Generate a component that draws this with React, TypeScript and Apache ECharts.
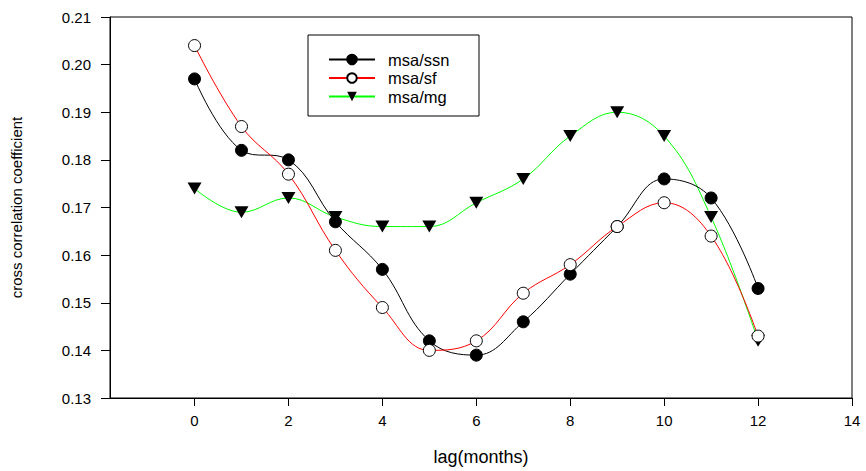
import React, { useEffect, useRef } from "react";
import * as echarts from "echarts";

const lags = [0, 1, 2, 3, 4, 5, 6, 7, 8, 9, 10, 11, 12];
const ssn = [0.197, 0.182, 0.18, 0.167, 0.157, 0.142, 0.139, 0.146, 0.156, 0.166, 0.176, 0.172, 0.153];
const sf = [0.204, 0.187, 0.177, 0.161, 0.149, 0.14, 0.142, 0.152, 0.158, 0.166, 0.171, 0.164, 0.143];
const mg = [0.174, 0.169, 0.172, 0.168, 0.166, 0.166, 0.171, 0.176, 0.185, 0.19, 0.185, 0.168, 0.142];
const xTicks = [0, 2, 4, 6, 8, 10, 12, 14];

const FONT = "Liberation Sans, Arial, sans-serif";

export default function App() {
  const ref = useRef<HTMLDivElement>(null);
  useEffect(() => {
    if (!ref.current) return;
    const chart = echarts.init(ref.current, undefined, { renderer: "svg" });
    const pair = (ys: number[]) => lags.map((x, i) => [x, ys[i]]);
    chart.setOption({
      animation: false,
      backgroundColor: "#fff",
      textStyle: { fontFamily: FONT },
      grid: { left: 110, right: 14, top: 17, bottom: 64, show: true, borderColor: "#000", borderWidth: 1 },
      graphic: [
        {
          type: "rect",
          shape: { x: 308, y: 35, width: 171, height: 81 },
          style: { fill: "#fff", stroke: "#000", lineWidth: 1 },
          z: 10,
        },
      ],
      legend: {
        orient: "vertical",
        left: 323,
        top: 46,
        itemWidth: 46,
        itemHeight: 12,
        itemGap: 1.5,
        z: 20,
        textStyle: { fontSize: 16.5, color: "#000", fontFamily: FONT, padding: [0, 0, 0, 8] },
        data: ["msa/ssn", "msa/sf", "msa/mg"],
      },
      xAxis: {
        type: "value",
        min: -1.8,
        max: 14,
        name: "lag(months)",
        nameLocation: "middle",
        nameGap: 50,
        nameTextStyle: { fontSize: 18, color: "#000", fontFamily: FONT },
        axisLine: { onZero: false, lineStyle: { color: "#000", width: 1 } },
        axisTick: { show: true, inside: false, length: 8, customValues: xTicks, lineStyle: { color: "#000" } },
        axisLabel: { customValues: xTicks, fontSize: 15, color: "#000", margin: 15, fontFamily: FONT },
        splitLine: { show: false },
      },
      yAxis: {
        type: "value",
        min: 0.13,
        max: 0.21,
        interval: 0.01,
        name: "cross correlation coefficient",
        nameLocation: "middle",
        nameGap: 86,
        nameTextStyle: { fontSize: 15, color: "#000", fontFamily: FONT },
        axisLine: { onZero: false, lineStyle: { color: "#000", width: 1 } },
        axisTick: { show: true, length: 9, lineStyle: { color: "#000" } },
        axisLabel: {
          fontSize: 15,
          color: "#000",
          margin: 19,
          fontFamily: FONT,
          formatter: (v: number) => v.toFixed(2),
        },
        splitLine: { show: false },
      },
      series: [
        {
          name: "msa/ssn",
          type: "line",
          smooth: 0.4,
          data: pair(ssn),
          symbol: "circle",
          symbolSize: 12,
          lineStyle: { color: "#000", width: 1 },
          itemStyle: { color: "#000", borderColor: "#000", borderWidth: 1 },
          z: 3,
        },
        {
          name: "msa/sf",
          type: "line",
          smooth: 0.4,
          data: pair(sf),
          symbol: "circle",
          symbolSize: 12,
          lineStyle: { color: "#ff0000", width: 1 },
          itemStyle: { color: "#fff", borderColor: "#000", borderWidth: 1 },
          z: 4,
        },
        {
          name: "msa/mg",
          type: "line",
          smooth: 0.4,
          data: pair(mg),
          symbol: "triangle",
          symbolRotate: 180,
          symbolSize: [14, 12],
          lineStyle: { color: "#00ff00", width: 1 },
          itemStyle: { color: "#000", borderColor: "#000", borderWidth: 0 },
          z: 2,
        },
      ],
    });
    return () => chart.dispose();
  }, []);
  return <div ref={ref} style={{ position: "fixed", left: 0, top: 0, width: 866, height: 471 }} />;
}
